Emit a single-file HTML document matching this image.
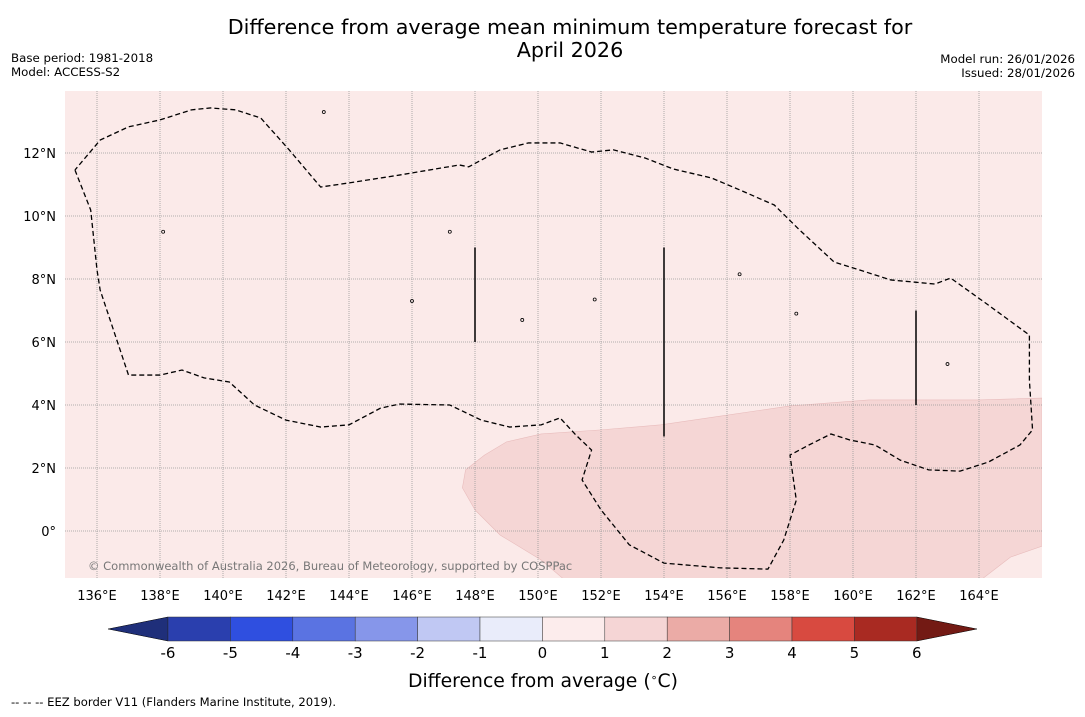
<!DOCTYPE html>
<html><head><meta charset="utf-8"><style>
body{margin:0;background:#fff;width:1085px;height:713px;overflow:hidden;font-family:"DejaVu Sans","Liberation Sans",sans-serif}
</style></head><body>
<svg width="1085" height="713" font-family="DejaVu Sans, Liberation Sans, sans-serif">
<text x="570" y="34" font-size="20.7" text-anchor="middle">Difference from average mean minimum temperature forecast for</text>
<text x="570" y="57" font-size="20.7" text-anchor="middle">April 2026</text>
<text x="11" y="62" font-size="11.8">Base period: 1981-2018</text>
<text x="11" y="76" font-size="11.8">Model: ACCESS-S2</text>
<text x="1075" y="63" font-size="11.8" text-anchor="end">Model run: 26/01/2026</text>
<text x="1075" y="77" font-size="11.8" text-anchor="end">Issued: 28/01/2026</text>
<defs><clipPath id="mc"><rect x="65" y="91" width="977" height="487"/></clipPath></defs>
<rect x="65" y="91" width="977" height="487" fill="#fbeae9"/>
<g id="map" clip-path="url(#mc)"></g>
<g id="axes"></g>
<g id="cbar"></g>
<text x="543" y="687" font-size="18.8" text-anchor="middle">Difference from average (<tspan baseline-shift="super" font-size="11">∘</tspan>C)</text>
<text x="11" y="706" font-size="11.6">--  --  -- EEZ border V11 (Flanders Marine Institute, 2019).</text>
</svg>
<script>
const NS="http://www.w3.org/2000/svg";
const lonTicks=[136,138,140,142,144,146,148,150,152,154,156,158,160,162,164];
const latTicks=[0,2,4,6,8,10,12];
const cbarLevels=[-6,-5,-4,-3,-2,-1,0,1,2,3,4,5,6];
const cbarColors=["#2a3fae","#2f4fe0","#5a73e2","#8696ea","#c0c8f3","#e9ecfa","#fcecec","#f5d5d5","#ebaba6","#e5847d","#d84a40","#a92a22"];
const anomLon=[166.0,164.0,160.5,158.0,155.8,153.9,152.0,150.1,149.0,148.3,147.7,147.6,148.0,148.8,150.1,150.9,164.0,165.0,166.0];
const anomLat=[4.22,4.16,4.16,3.97,3.65,3.37,3.21,3.08,2.83,2.41,1.94,1.37,0.67,-0.13,-0.92,-1.6,-1.6,-0.83,-0.48];
const eezLon=[135.3,135.8,136.0,136.1,137.0,138.0,138.7,139.4,140.2,141.0,142.0,143.1,144.0,145.0,145.6,147.2,148.2,149.1,150.1,150.7,151.2,151.7,151.4,152.0,152.9,154.0,155.8,157.3,157.8,158.2,158.0,158.6,159.3,159.9,160.7,161.5,162.4,163.4,164.3,165.3,165.7,165.6,165.6,164.3,163.1,162.6,161.2,160.2,159.4,158.3,157.5,156.4,155.5,154.3,153.4,152.4,151.7,150.7,149.7,148.8,147.8,147.5,145.6,144.0,143.1,142.1,141.2,140.4,139.6,139.0,138.0,137.0,136.1,135.3];
const eezLat=[11.46,10.19,8.29,7.65,4.95,4.95,5.11,4.86,4.73,4.0,3.52,3.30,3.37,3.90,4.03,4.0,3.52,3.30,3.37,3.59,3.05,2.57,1.62,0.67,-0.44,-1.02,-1.17,-1.21,-0.29,0.98,2.41,2.73,3.08,2.89,2.73,2.25,1.94,1.90,2.19,2.73,3.21,4.79,6.22,7.17,8.03,7.84,7.97,8.29,8.54,9.56,10.35,10.83,11.21,11.49,11.84,12.10,12.03,12.32,12.32,12.10,11.56,11.62,11.30,11.05,10.92,12.10,13.11,13.37,13.43,13.37,13.05,12.83,12.41,11.46];
const segLon=[148,148,154,154,162,162];
const segLat=[6,9,3,9,4,7];
const isleLon=[143.2,151.8,156.4,158.2,163.0,147.2,149.5,138.1,146.0];
const isleLat=[13.3,7.35,8.15,6.9,5.3,9.5,6.7,9.5,7.3];
const X=lon=>97+(lon-136)*31.5, Y=lat=>531-lat*31.5;
const map=document.getElementById('map'),axes=document.getElementById('axes'),cb=document.getElementById('cbar');
function mk(tag,attrs,parent){const e=document.createElementNS(NS,tag);for(const k in attrs)e.setAttribute(k,attrs[k]);parent.appendChild(e);return e;}
let p=mk('polygon',{points:anomLon.map((l,i)=>X(l)+','+Y(anomLat[i])).join(' '),fill:'#f5d6d5',stroke:'#e8bcbc','stroke-width':0.6},map);


lonTicks.forEach(l=>{const g=mk('line',{x1:X(l),x2:X(l),y1:91,y2:578,stroke:'#999','stroke-width':0.8,'stroke-dasharray':'1,1'},map);


const t=mk('text',{x:X(l),y:600,'font-size':13,'text-anchor':'middle'},axes);t.textContent=l+'°E';

});
latTicks.forEach(l=>{const g=mk('line',{x1:65,x2:1042,y1:Y(l),y2:Y(l),stroke:'#999','stroke-width':0.8,'stroke-dasharray':'1,1'},map);


const t=mk('text',{x:56,y:Y(l)+5,'font-size':13,'text-anchor':'end'},axes);t.textContent=l==0?'0°':l+'°N';

});
let e=mk('polyline',{points:eezLon.map((l,i)=>X(l)+','+Y(eezLat[i])).join(' '),fill:'none',stroke:'#000','stroke-width':1.3,'stroke-dasharray':'5,3'},map);


for(let i=0;i<segLon.length;i+=2){const s=mk('line',{x1:X(segLon[i]),x2:X(segLon[i+1]),y1:Y(segLat[i]),y2:Y(segLat[i+1]),stroke:'#000','stroke-width':1.5},map);

}
isleLon.forEach((l,i)=>{const c=mk('circle',{cx:X(l),cy:Y(isleLat[i]),r:1.5,fill:'none',stroke:'#000','stroke-width':0.8},map);

});
let ct=mk('text',{x:88,y:570,'font-size':11.5,fill:'#777'},map);ct.textContent='© Commonwealth of Australia 2026, Bureau of Meteorology, supported by COSPPac';


const CX=v=>168+(v+6)*62.4;
let lt=mk('polygon',{points:`108,629 ${CX(-6)},617 ${CX(-6)},641`,fill:'#1f2f7a',stroke:'#000','stroke-width':0.5},cb);


let rt=mk('polygon',{points:`977,629 ${CX(6)},617 ${CX(6)},641`,fill:'#731a14',stroke:'#000','stroke-width':0.5},cb);


cbarColors.forEach((c,i)=>{const r=mk('rect',{x:CX(cbarLevels[i]),y:617,width:CX(cbarLevels[i+1])-CX(cbarLevels[i]),height:24,fill:c,stroke:'#333','stroke-width':0.5},cb);

});
cbarLevels.forEach(v=>{const t=mk('text',{x:CX(v),y:658,'font-size':15,'text-anchor':'middle'},cb);t.textContent=v;

});
</script>
</body></html>
